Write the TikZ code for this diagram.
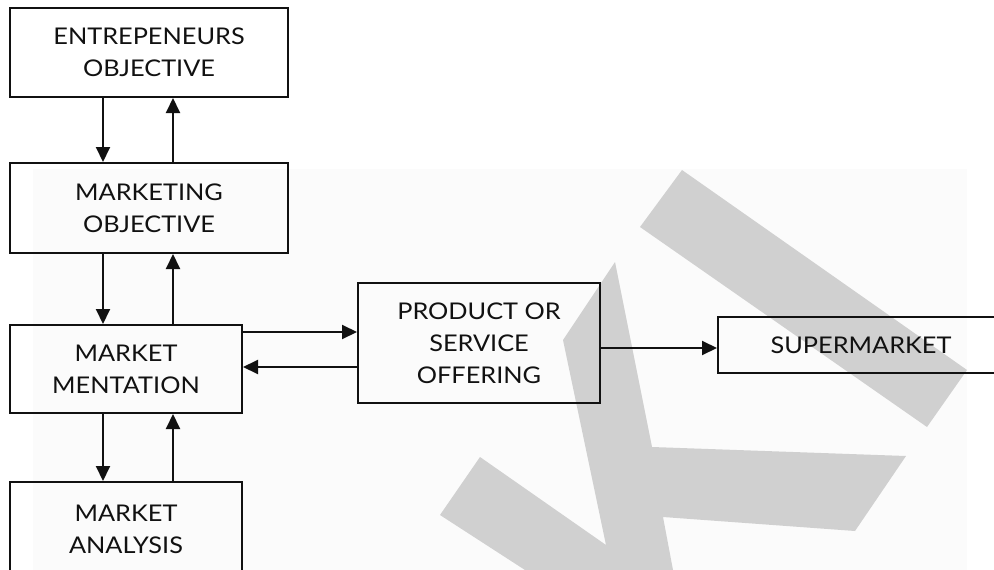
\documentclass[tikz,border=0pt]{standalone}
\usepackage{fontspec}
\setmainfont{Lato}[FakeStretch=1.1]
\usepackage{tikz}
\usepackage{xcolor}
\usetikzlibrary{arrows.meta,positioning,calc}
\definecolor{ink}{HTML}{111111}
\definecolor{shade}{HTML}{D0D0D0}
\definecolor{faint}{HTML}{FBFBFB}
\tikzset{
  card/.style={draw=ink,line width=2pt,align=center,inner sep=0pt,
               font=\fontsize{23}{32}\selectfont,text=ink},
  inkarr/.style={-{Triangle[length=15pt,width=14pt]},line width=2pt,
                 draw=ink},
  wmark/.style={fill=shade,draw=none}
}
\begin{document}
\begin{tikzpicture}[x=1pt,y=-1pt]
    \path[use as bounding box] (0,0) rectangle (994,570);
    % watermark behind the chart
    \fill[faint] (33,169) rectangle (967,570);
    \path[wmark] (682,170) -- (640,227) -- (927,427) -- (967,370) -- cycle;
    \path[wmark] (615,262) -- (652,447) -- (906,456) -- (855,531)
      -- (663,517) -- (673,570) -- (525,570) -- (440,515) -- (480,457)
      -- (606,545) -- (563,340) -- cycle;
    % boxes
    \node[card,minimum width=278pt,minimum height=89pt] (ent) at (149,52.5)
      {ENTREPENEURS\\OBJECTIVE};
    \node[card,minimum width=278pt,minimum height=90pt] (mobj) at (149,208)
      {MARKETING\\OBJECTIVE};
    \node[card,minimum width=232pt,minimum height=88pt] (mseg) at (126,369)
      {MARKET\\MENTATION};
    \node[card,minimum width=232pt,minimum height=94pt] (mana) at (126,529)
      {MARKET\\ANALYSIS};
    \node[card,minimum width=242pt,minimum height=120pt] (prod) at (479,343)
      {PRODUCT OR\\SERVICE\\OFFERING};
    \node[card,minimum width=286pt,minimum height=56pt] (sup) at (861,345)
      {SUPERMARKET};
    % arrow lanes
    \coordinate (dn) at (103,0);
    \coordinate (up) at (173,0);
    \coordinate (fw) at (0,332);
    \coordinate (bk) at (0,367);
    \coordinate (sp) at (0,348);
    \draw[inkarr] (ent.south -| dn) -- (mobj.north -| dn);
    \draw[inkarr] (mobj.north -| up) -- (ent.south -| up);
    \draw[inkarr] (mobj.south -| dn) -- (mseg.north -| dn);
    \draw[inkarr] (mseg.north -| up) -- (mobj.south -| up);
    \draw[inkarr] (mseg.south -| dn) -- (mana.north -| dn);
    \draw[inkarr] (mana.north -| up) -- (mseg.south -| up);
    \draw[inkarr] (mseg.east |- fw) -- (prod.west |- fw);
    \draw[inkarr] (prod.west |- bk) -- (mseg.east |- bk);
    \draw[inkarr] (prod.east |- sp) -- (sup.west |- sp);
\end{tikzpicture}
\end{document}
